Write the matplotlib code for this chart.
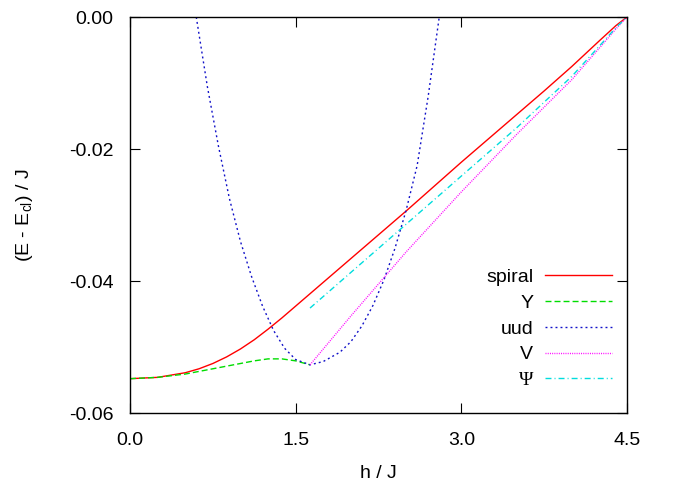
import matplotlib
matplotlib.use('Agg')
import matplotlib.pyplot as plt

# values
h_spiral = [0.0, 0.25, 0.5, 0.625, 0.75, 0.875, 1.0, 1.125, 1.25, 1.375, 1.5, 1.75, 2.0, 2.25, 2.5,
            2.75, 3.0, 3.25, 3.5, 3.75, 4.0, 4.25, 4.4, 4.5]
e_spiral = [-0.0548, -0.0546, -0.0539, -0.0533, -0.0525, -0.0515, -0.0503, -0.0489, -0.0473, -0.0456,
            -0.0438, -0.0402, -0.0366, -0.0330, -0.0294, -0.0257, -0.0220, -0.0184, -0.0148, -0.0112,
            -0.0075, -0.0036, -0.0013, 0.0]

h_y = [0.0, 0.25, 0.5, 0.625, 0.75, 0.875, 1.0, 1.125, 1.25, 1.375, 1.5, 1.63]
e_y = [-0.0548, -0.0546, -0.0541, -0.0537, -0.0533, -0.0529, -0.0525, -0.0521, -0.0518, -0.0518,
       -0.0521, -0.0527]

h_uud = [0.60, 0.70, 0.80, 0.90, 1.00, 1.10, 1.20, 1.30, 1.40, 1.50, 1.63, 1.75, 1.90, 2.00,
         2.10, 2.20, 2.30, 2.40, 2.50, 2.60, 2.70, 2.80]
e_uud = [0.0, -0.0105, -0.0195, -0.0275, -0.0340, -0.0393, -0.0438, -0.0475, -0.0502, -0.0519,
         -0.0527, -0.0522, -0.0508, -0.0492, -0.0468, -0.0437, -0.0398, -0.0350, -0.0293, -0.0225,
         -0.0120, 0.0]

h_v = [1.63, 2.0, 2.5, 3.0, 3.5, 4.0, 4.25, 4.4, 4.5]
e_v = [-0.0527, -0.0453, -0.0356, -0.0265, -0.0178, -0.0095, -0.0047, -0.0018, 0.0]

h_psi = [1.63, 2.0, 2.5, 3.0, 3.5, 4.0, 4.25, 4.4, 4.5]
e_psi = [-0.0441, -0.0387, -0.0314, -0.0241, -0.0168, -0.0090, -0.0044, -0.0016, 0.0]

x_ticks = [0.0, 1.5, 3.0, 4.5]
y_ticks = [-0.06, -0.04, -0.02, 0.0]

plt.rcParams['font.family'] = ['Liberation Sans', 'DejaVu Sans']
plt.rcParams['axes.unicode_minus'] = False
plt.rcParams['mathtext.fontset'] = 'custom'
plt.rcParams['mathtext.rm'] = 'Liberation Sans'

fig = plt.figure(figsize=(6.84, 4.88), dpi=100)
ax = fig.add_axes([130 / 684, 75 / 488, 497 / 684, 396 / 488])

ax.plot(h_spiral, e_spiral, color='#ff0000', lw=1.0, label='spiral')
ax.plot(h_y, e_y, color='#00dd00', lw=1.0, linestyle=(0, (4.3, 2.2)), label='Y')
ax.plot(h_uud, e_uud, color='#1010c8', lw=1.0, linestyle=(0, (1.4, 2.2)), label='uud')
ax.plot(h_v, e_v, color='#ff00ff', lw=1.0, linestyle=(0, (0.7, 0.9)), label='V')
ax.plot(h_psi, e_psi, color='#00dddd', lw=1.0, linestyle=(0, (4.3, 2.2, 0.7, 2.2)), label='Ψ')

ax.set_xlim(0, 4.5)
ax.set_ylim(-0.06, 0.0)
ax.set_xticks(x_ticks)
ax.set_xticklabels(['%.1f' % v for v in x_ticks])
ax.set_yticks(y_ticks)
ax.set_yticklabels(['%.2f' % v for v in y_ticks])
ax.tick_params(direction='in', top=True, right=True, length=7, width=0.8, labelsize=14)
ax.tick_params(axis='x', pad=14)
ax.tick_params(axis='y', pad=12)
for s in ax.spines.values():
    s.set_linewidth(1.0)

ax.set_xlabel('h / J', fontsize=14, labelpad=11)
ax.set_ylabel(r'(E - E$_\mathregular{cl}$) / J', fontsize=14, labelpad=24)

leg = ax.legend(loc='lower right', bbox_to_anchor=(0.970, 0.06), frameon=False, markerfirst=False,
                fontsize=14, handlelength=3.45, handletextpad=0.6, labelspacing=0.42,
                borderpad=0, borderaxespad=0)
leg.get_texts()[-1].set_family('Liberation Serif')

fig.savefig('out.png', dpi=100)
